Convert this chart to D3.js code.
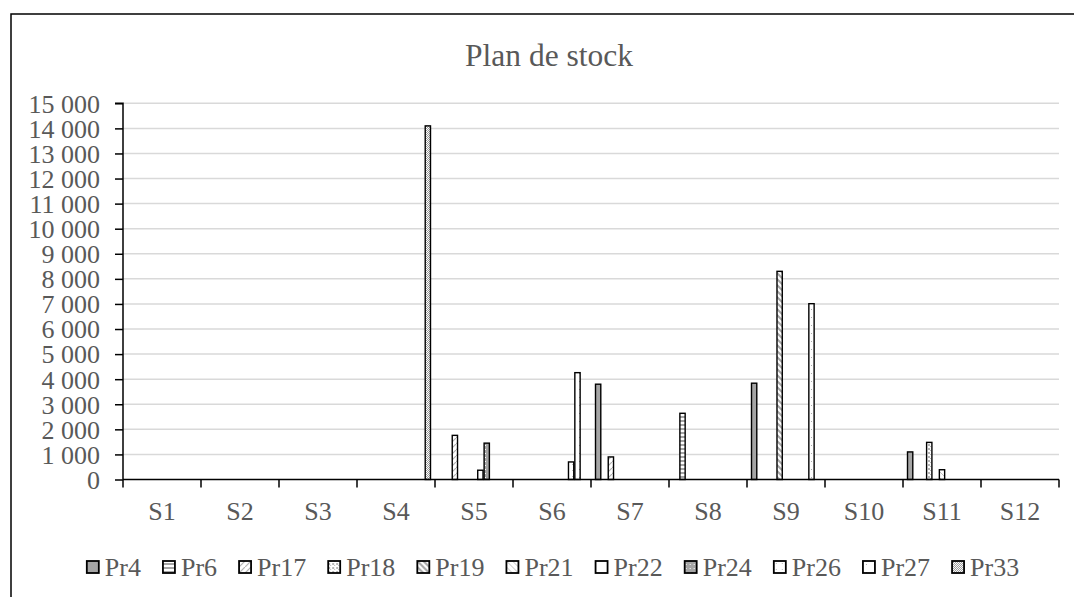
<!DOCTYPE html>
<html><head><meta charset="utf-8">
<script src="https://cdn.jsdelivr.net/npm/d3@7"></script>
<style>
html,body{margin:0;padding:0;background:#fff;overflow:hidden}
text{font-family:"Liberation Serif","Times New Roman",serif;fill:#595959}
</style></head>
<body><svg id="c" width="1074" height="597"></svg>
<script>
const title = "Plan de stock";
const categories = ["S1","S2","S3","S4","S5","S6","S7","S8","S9","S10","S11","S12"];
const seriesNames = ["Pr4","Pr6","Pr17","Pr18","Pr19","Pr21","Pr22","Pr24","Pr26","Pr27","Pr33"];
const pr4  = [0,0,0,0,0,0,3800,0,3840,0,1100,0];
const pr6  = [0,0,0,0,0,0,0,2640,0,0,0,0];
const pr17 = [0,0,0,0,1760,0,900,0,0,0,0,0];
const pr18 = [0,0,0,0,0,0,0,0,0,0,1480,0];
const pr19 = [0,0,0,0,0,0,0,0,8300,0,0,0];
const pr21 = [0,0,0,0,0,0,0,0,0,0,390,0];
const pr22 = [0,0,0,0,370,0,0,0,0,0,0,0];
const pr24 = [0,0,0,0,1450,0,0,0,0,0,0,0];
const pr26 = [0,0,0,0,0,700,0,0,0,0,0,0];
const pr27 = [0,0,0,0,0,4260,0,0,7010,0,0,0];
const pr33 = [0,0,0,14100,0,0,0,0,0,0,0,0];
const yTicks = [0,1000,2000,3000,4000,5000,6000,7000,8000,9000,10000,11000,12000,13000,14000,15000];

const seriesValues = [pr4,pr6,pr17,pr18,pr19,pr21,pr22,pr24,pr26,pr27,pr33];
const table = [];
seriesNames.forEach((s,i)=>categories.forEach((c,j)=>table.push({series:s, cat:c, value:seriesValues[i][j], idx:i})));

const svg = d3.select("#c");
svg.append("rect").attr("x",11).attr("y",14).attr("width",1100).attr("height",620)
  .attr("fill","#fff").attr("stroke","#000").attr("stroke-width",1.5);

const defs = svg.append("defs");
function pat(id, w, h, build){
  const p = defs.append("pattern").attr("id",id).attr("patternUnits","userSpaceOnUse").attr("width",w).attr("height",h);
  build(p); return `url(#${id})`;
}
const fills = [
  "#a5a5a5",
  pat("p6",4,4,p=>{p.append("rect").attr("width",4).attr("height",4).attr("fill","#fff");p.append("rect").attr("width",4).attr("height",2).attr("fill","#a5a5a5");}),
  pat("p17",6,6,p=>{p.append("rect").attr("width",6).attr("height",6).attr("fill","#fff");p.append("path").attr("d","M0,6L6,0").attr("stroke","#b0b0b0").attr("stroke-width",1.2);}),
  pat("p18",4,4,p=>{p.append("rect").attr("width",4).attr("height",4).attr("fill","#fff");p.append("rect").attr("width",2).attr("height",2).attr("fill","#b5b5b5");p.append("rect").attr("x",2).attr("y",2).attr("width",1).attr("height",1).attr("fill","#b5b5b5");}),
  pat("p19",6,6,p=>{p.append("rect").attr("width",6).attr("height",6).attr("fill","#fff");p.append("path").attr("d","M0,0L6,6M-3,3L3,9M3,-3L9,3").attr("stroke","#a5a5a5").attr("stroke-width",2);}),
  pat("p21",6,6,p=>{p.append("rect").attr("width",6).attr("height",6).attr("fill","#fff");p.append("path").attr("d","M0,0L6,6").attr("stroke","#c0c0c0").attr("stroke-width",1);}),
  "#fff",
  pat("p24",4,4,p=>{p.append("rect").attr("width",4).attr("height",4).attr("fill","#a5a5a5");p.append("rect").attr("x",1).attr("y",1).attr("width",1).attr("height",1).attr("fill","#fff");}),
  pat("p26",6,6,p=>{p.append("rect").attr("width",6).attr("height",6).attr("fill","#fff");p.append("rect").attr("x",2).attr("y",2).attr("width",1).attr("height",1).attr("fill","#bbb");}),
  pat("p27",8,8,p=>{p.append("rect").attr("width",8).attr("height",8).attr("fill","#fff");p.append("rect").attr("x",3).attr("y",5).attr("width",1).attr("height",1).attr("fill","#aaa");}),
  pat("p33",2,2,p=>{p.append("rect").attr("width",2).attr("height",2).attr("fill","#fff");p.append("rect").attr("width",1).attr("height",1).attr("fill","#999");p.append("rect").attr("x",1).attr("y",1).attr("width",1).attr("height",1).attr("fill","#999");})
];

const L=123, R=1059, T=103.3, B=479.5;
const x0 = d3.scaleBand().domain(categories).range([L,R]).padding(0);
const x1 = d3.scaleBand().domain(seriesNames).range([4.5, x0.bandwidth()-4.5]).paddingInner(0.17);
const y = d3.scaleLinear().domain([0,15000]).range([B,T]);

svg.append("text").attr("x",549).attr("y",55).attr("text-anchor","middle").attr("dominant-baseline","central")
  .style("font-size","31.5px").text(title);

svg.append("g").selectAll("line").data(yTicks.filter(d=>d>0)).join("line")
  .attr("x1",L).attr("x2",R).attr("y1",d=>y(d)).attr("y2",d=>y(d))
  .attr("stroke","#d9d9d9").attr("stroke-width",1.5);

const yAxis = d3.axisLeft(y).tickValues(yTicks).tickSize(8).tickPadding(15)
  .tickFormat(d=>d3.format(",")(d).replace(/,/g,"\u00a0"));
const gy = svg.append("g").attr("transform",`translate(${L},0)`).call(yAxis);
gy.select(".domain").attr("stroke","#000").attr("stroke-width",1.5).attr("d",`M-8,${T}H0V${B}`);
gy.selectAll(".tick line").attr("stroke","#000").attr("stroke-width",1.5);
gy.selectAll(".tick text").style("font-size","26px").attr("fill","#595959").attr("font-family",null).attr("dy","0.34em");

svg.append("g").selectAll("rect").data(table.filter(d=>d.value>0)).join("rect")
  .attr("x",d=>x0(d.cat)+x1(d.series)).attr("width",x1.bandwidth())
  .attr("y",d=>y(d.value)).attr("height",d=>B-y(d.value))
  .attr("fill",d=>fills[d.idx]).attr("stroke","#000").attr("stroke-width",1.4);

const xAxis = d3.axisBottom(x0).tickSize(0).tickPadding(22);
const gx = svg.append("g").attr("transform",`translate(0,${B})`).call(xAxis);
gx.select(".domain").attr("stroke","#000").attr("stroke-width",1.5).attr("d",`M${L},0H${R}`);
gx.selectAll(".tick text").style("font-size","26px").attr("fill","#595959").attr("font-family",null);
gx.append("g").selectAll("line").data(d3.range(categories.length+1)).join("line")
  .attr("x1",i=>L+i*x0.bandwidth()).attr("x2",i=>L+i*x0.bandwidth())
  .attr("y1",0).attr("y2",8).attr("stroke","#000").attr("stroke-width",1.5);

const lg = svg.append("g");
const items = lg.selectAll("g").data(seriesNames).join("g");
items.append("rect").attr("width",12).attr("height",12).attr("y",-6)
  .attr("fill",(d,i)=>fills[i]).attr("stroke","#000").attr("stroke-width",1.8);
items.append("text").attr("x",18).attr("dominant-baseline","central").style("font-size","26px").text(d=>d);
const widths=[];
items.each(function(){ widths.push(18 + d3.select(this).select("text").node().getComputedTextLength()); });
const gap = 22;
const total = d3.sum(widths) + gap*(widths.length-1);
let start = 553 - total/2;
items.attr("transform",(d,i)=>{ const t=`translate(${start},567)`; start += widths[i]+gap; return t; });
</script></body></html>
